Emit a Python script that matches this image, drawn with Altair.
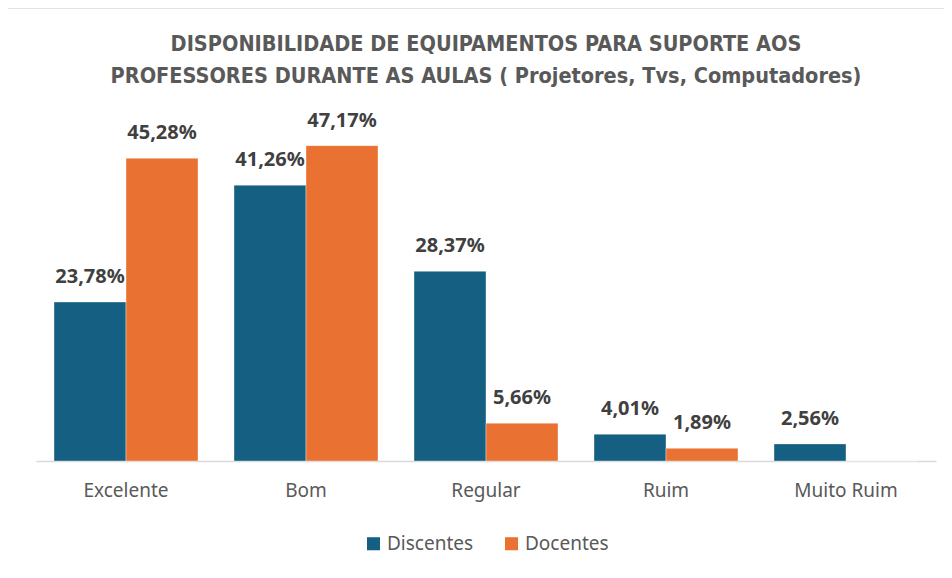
import altair as alt
import pandas as pd

categories = ["Excelente", "Bom", "Regular", "Ruim", "Muito Ruim"]
series = ["Discentes", "Docentes"]
discentes = [23.78, 41.26, 28.37, 4.01, 2.56]
docentes = [45.28, 47.17, 5.66, 1.89, 0.0]
colors = ["#156082", "#E97132"]
title_lines = ["DISPONIBILIDADE DE EQUIPAMENTOS PARA SUPORTE AOS",
               "PROFESSORES DURANTE AS AULAS ( Projetores, Tvs, Computadores)"]

rows = []
for i, c in enumerate(categories):
    for s, vals in zip(series, [discentes, docentes]):
        v = vals[i]
        rows.append({"cat": c, "serie": s, "val": v,
                     "label": (f"{v:.2f}%".replace(".", ",") if v > 0 else "")})
df = pd.DataFrame(rows)

font_main = "Aptos, 'Noto Sans', 'Open Sans', sans-serif"
font_title = "'Liberation Sans Narrow', 'DejaVu Sans Condensed', 'Roboto', sans-serif"

x = alt.X("cat:N", sort=categories, title=None,
          scale=alt.Scale(paddingInner=0.2, paddingOuter=0.1),
          axis=alt.Axis(labelAngle=0, labelFontSize=19, labelColor="#595959",
                        labelFont=font_main, labelPadding=20, ticks=False,
                        domainColor="#d9d9d9", domainWidth=1.5))
y = alt.Y("val:Q", title=None, scale=alt.Scale(domain=[0, 52.5], nice=False),
          axis=None)
xo = alt.XOffset("serie:N", sort=series, scale=alt.Scale(paddingInner=0, paddingOuter=0))

bars = alt.Chart(df).mark_bar(stroke="white", strokeWidth=0.6, strokeOpacity=0.6).encode(
    x=x, y=y, xOffset=xo,
    color=alt.Color("serie:N", sort=series,
                    scale=alt.Scale(domain=series, range=colors),
                    legend=alt.Legend(title=None, orient="none", direction="horizontal",
                                      legendX=328, legendY=424,
                                      symbolType="square", symbolSize=170,
                                      symbolStrokeWidth=0,
                                      labelFontSize=19, labelColor="#595959",
                                      labelFont=font_main, columnPadding=28,
                                      labelOffset=4)),
)

labels = alt.Chart(df).mark_text(fontSize=20, fontWeight="bold", color="#404040",
                                 font=font_main, baseline="alphabetic", dy=-19).encode(
    x=x, y=y, xOffset=xo, text="label:N")

border = alt.Chart(pd.DataFrame({"k": [0]})).mark_rect(
    fill=None, stroke="#d9d9d9", strokeWidth=1.5).encode(
    x=alt.value(-29), x2=alt.value(960), y=alt.value(-102), y2=alt.value(520))

tdf = pd.DataFrame({"t": title_lines, "line": [0, 1]})
t1 = alt.Chart(tdf.iloc[[0]]).mark_text(
    font=font_title, fontSize=21.5, fontWeight="bold", color="#595959",
    baseline="middle", align="center").encode(
    text="t:N", x=alt.value(450), y=alt.value(-65))
t2 = alt.Chart(tdf.iloc[[1]]).mark_text(
    font=font_title, fontSize=21.5, fontWeight="bold", color="#595959",
    baseline="middle", align="center").encode(
    text="t:N", x=alt.value(450), y=alt.value(-33))

chart = alt.layer(border, bars, labels, t1, t2).properties(
    width=900, height=351,
    padding={"left": 28, "top": 102, "right": 8, "bottom": 100},
    autosize=alt.AutoSizeParams(type="none"),
).configure_view(stroke=None)

chart.save("out.html", embed_options={"renderer": "svg", "actions": False})
